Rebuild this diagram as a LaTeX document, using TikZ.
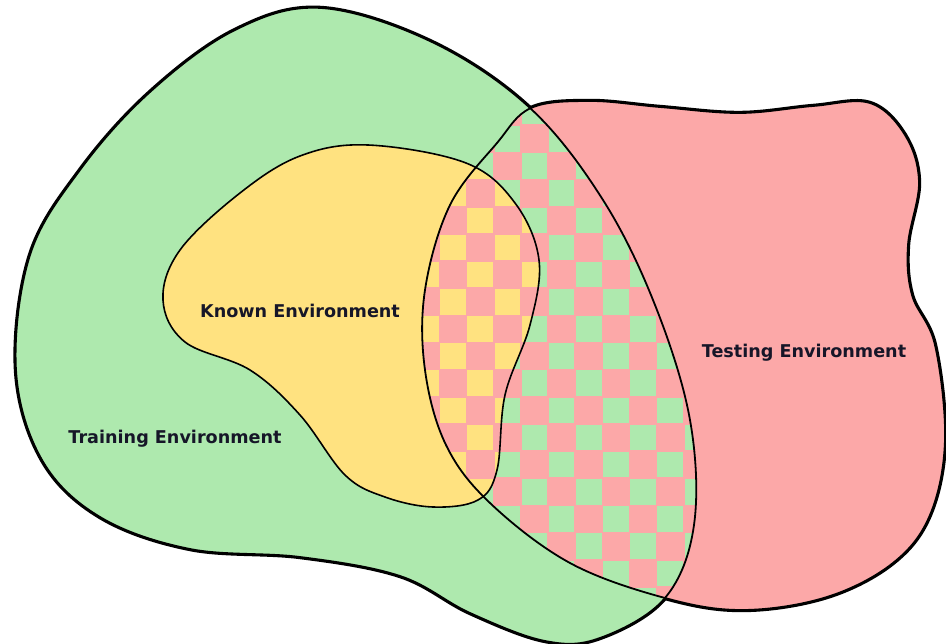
\documentclass[tikz,border=0pt]{standalone}
\usepackage{fontspec}
\setmainfont{DejaVu Sans}
\definecolor{trainc}{RGB}{174,233,174}
\definecolor{testc}{RGB}{252,168,168}
\definecolor{knownc}{RGB}{255,226,128}
\definecolor{txtc}{RGB}{22,22,40}
\tikzset{
  outerline/.style={draw=black,line width=4.4pt},
  innerline/.style={draw=black,line width=1.8pt},
  knownline/.style={draw=black,line width=1.6pt},
  lbl/.style={font=\fontsize{17.6}{20}\selectfont\bfseries,text=txtc,inner sep=0pt}
}
\def\greenpath{plot[smooth cycle,tension=0.6] coordinates {(321,8) (432,42) (530,108) (603,200) (655,305) (690,420) (694,525) (665,598) (600,638) (545,641) (470,613) (400,576) (300,557) (190,549) (100,517) (42,460) (16,370) (30,255) (80,170) (150,92) (235,30)}}
\def\pinkpath{plot[smooth cycle,tension=0.6] coordinates {(531,108) (497,143) (450,205) (425,290) (425,370) (446,445) (490,503) (570,563) (665,598) (743,610) (827,597) (893,563) (930,515) (945,440) (935,345) (912,295) (908,245) (919,182) (905,135) (870,103) (813,106) (740,113) (660,107) (590,101)}}
\def\yellowpath{plot[smooth cycle,tension=0.6] coordinates {(368,145) (466,163) (515,203) (539,260) (530,325) (505,395) (497,470) (478,500) (433,507) (385,497) (345,475) (300,415) (250,370) (185,342) (163,300) (180,250) (240,193) (300,156)}}
\begin{document}
\begin{tikzpicture}[x=1pt,y=-1pt]
\useasboundingbox (0,0) rectangle (946,644);
% thick underlay for outer contour
\path[outerline] \greenpath;
\path[outerline] \pinkpath;
% fills
\fill[trainc] \greenpath;
\fill[knownc] \yellowpath;
\fill[testc] \pinkpath;
% checker: testing and training
\begin{scope}
  \clip \pinkpath;
  \clip \greenpath;
  \fill[testc] (400,80) rectangle (720,630);
  \foreach \j in {-2,...,17}{
    \foreach \i in {-5,...,7}{
      \pgfmathtruncatemacro\pp{mod(\i+\j+40,2)}
      \ifnum\pp=0
        \fill[trainc] ({521.7+27.15*\i},{153.3+27.15*\j}) rectangle ++(25.5,25.5);
      \fi
    }
  }
\end{scope}
% checker: testing and known
\begin{scope}
  \clip \pinkpath;
  \clip \yellowpath;
  \fill[testc] (400,80) rectangle (720,630);
  \foreach \j in {-2,...,17}{
    \foreach \i in {-5,...,7}{
      \pgfmathtruncatemacro\pp{mod(\i+\j+40,2)}
      \ifnum\pp=0
        \fill[knownc] ({521.7+27.15*\i},{153.3+27.15*\j}) rectangle ++(25.5,25.5);
      \fi
    }
  }
\end{scope}
% outlines
\path[innerline] \greenpath;
\path[innerline] \pinkpath;
\path[knownline] \yellowpath;
% labels
\node[lbl] (known) at (300,311) {Known Environment};
\node[lbl] (train) at (175,439) {Training Environment};
\node[lbl] (test) at (804,353) {Testing Environment};
\end{tikzpicture}
\end{document}
